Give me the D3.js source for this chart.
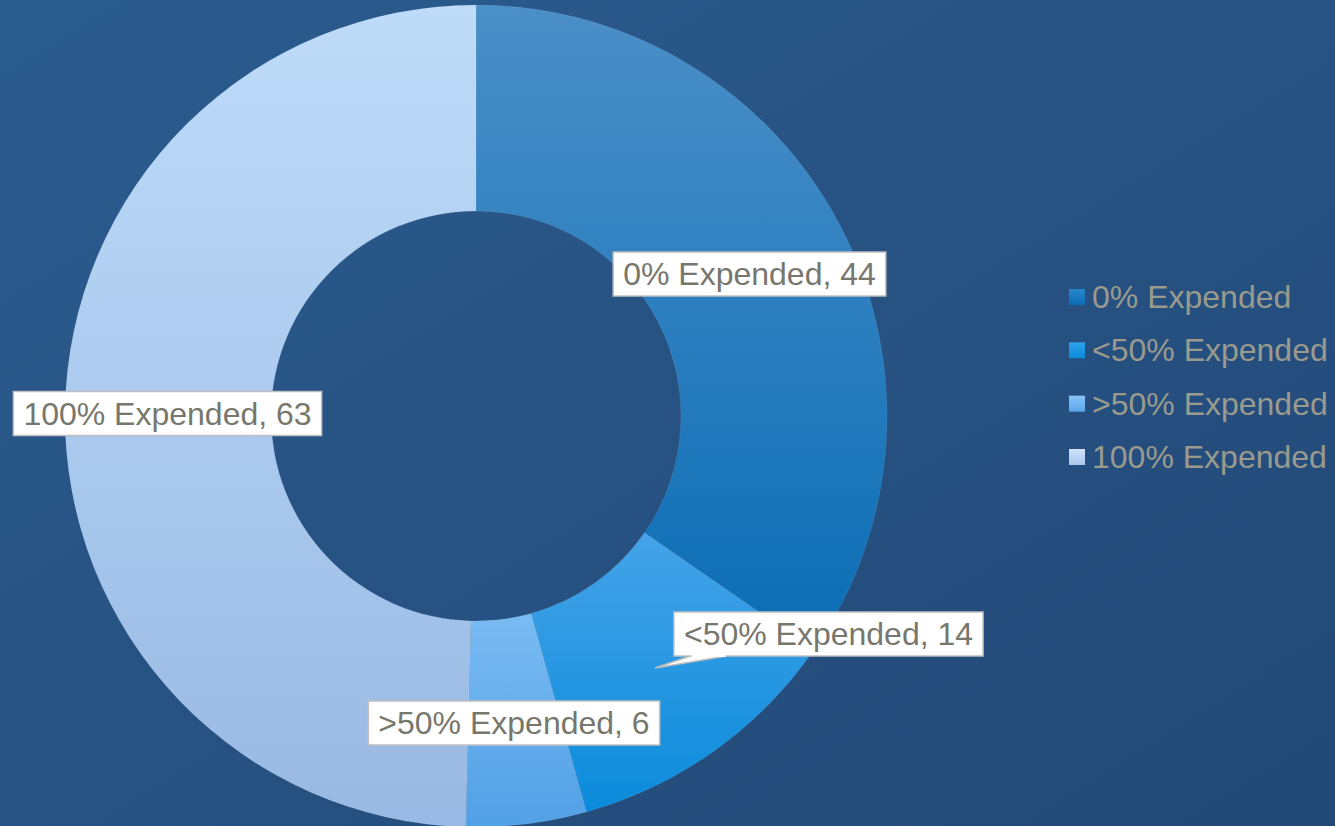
<!DOCTYPE html>
<html><head><meta charset="utf-8">
<script src="https://cdn.jsdelivr.net/npm/d3@7"></script>
<style>html,body{margin:0;padding:0;background:#26527f;overflow:hidden}</style>
</head><body>
<svg id="c" width="1335" height="826"></svg>
<script>
const categories = ["0% Expended", "<50% Expended", ">50% Expended", "100% Expended"];
const values = [44, 14, 6, 63];
const colorTop = ["#4b8fc8", "#45a3e8", "#7abbf3", "#bedbf9"];
const colorBottom = ["#0a6db5", "#0a8bdb", "#52a0e6", "#98b9e3"];
const legendColorTop = ["#2a86cc", "#2ea3ec", "#88c4f7", "#cfe3fa"];
const legendColorBottom = ["#0a6db5", "#0a8bdb", "#5aa6ea", "#a8c6ec"];

const svg = d3.select("#c");
const W = 1335, H = 826;
const defs = svg.append("defs");
const bg = defs.append("linearGradient").attr("id","bg").attr("x1","0").attr("y1","0").attr("x2","1").attr("y2","1");
bg.append("stop").attr("offset","0").attr("stop-color","#2b5c8f");
bg.append("stop").attr("offset","1").attr("stop-color","#224876");
svg.append("rect").attr("width",W).attr("height",H).attr("fill","url(#bg)");

categories.forEach((c,i)=>{
  const g = defs.append("linearGradient").attr("id","g"+i).attr("x1","0").attr("y1","0").attr("x2","0").attr("y2","1");
  g.append("stop").attr("offset","0").attr("stop-color",colorTop[i]);
  g.append("stop").attr("offset","1").attr("stop-color",colorBottom[i]);
  const l = defs.append("linearGradient").attr("id","l"+i).attr("x1","0").attr("y1","0").attr("x2","0").attr("y2","1");
  l.append("stop").attr("offset","0").attr("stop-color",legendColorTop[i]);
  l.append("stop").attr("offset","1").attr("stop-color",legendColorBottom[i]);
});

const cx = 476, cy = 416, R = 411, r = 205;
const pie = d3.pie().sort(null).value(d=>d)(values);
const arc = d3.arc().innerRadius(r).outerRadius(R);
const chart = svg.append("g").attr("transform",`translate(${cx},${cy})`);
chart.selectAll("path.slice").data(pie).join("path").attr("class","slice")
  .attr("d",arc).attr("fill",(d,i)=>`url(#g${i})`)
  .attr("stroke","rgba(255,255,255,0.08)").attr("stroke-width",1);

// data labels
const font = "Liberation Sans, Arial, sans-serif";
const labelPos = [[749.5,274],[828.5,634],[514,723],[167.5,413.5]];
const lg = svg.append("g");
// callout pointer for <50%
const p1 = labelPos[1];
lg.append("path").attr("d",`M${p1[0]-138},${p1[1]+22} L655,668 L${p1[0]-102},${p1[1]+22} Z`)
  .attr("fill","#ffffff").attr("stroke","#bfbfbf").attr("stroke-width",1.5);
lg.append("circle").attr("cx",15).attr("cy",409).attr("r",2).attr("fill","#bfbfbf");
pie.forEach((d,i)=>{
  const t = lg.append("text").attr("x",labelPos[i][0]).attr("y",labelPos[i][1]+11)
    .attr("text-anchor","middle").attr("font-family",font).attr("font-size",32)
    .attr("fill","#77776d").text(`${categories[i]}, ${values[i]}`);
  const bb = t.node().getBBox();
  lg.insert("rect", function(){return t.node();})
    .attr("x",bb.x-10).attr("y",labelPos[i][1]-22).attr("width",bb.width+20).attr("height",44)
    .attr("fill","#ffffff").attr("stroke","#bfbfbf").attr("stroke-width",1.5);
});
// cover pointer join
lg.append("line").attr("x1",p1[0]-137).attr("x2",p1[0]-103).attr("y1",p1[1]+22).attr("y2",p1[1]+22)
  .attr("stroke","#ffffff").attr("stroke-width",2);

// legend
const leg = svg.append("g");
const ly = d3.scalePoint().domain(categories).range([297,457]);
categories.forEach((c,i)=>{
  leg.append("rect").attr("x",1069).attr("y",ly(c)-8).attr("width",16).attr("height",16).attr("fill",`url(#l${i})`);
  leg.append("text").attr("x",1092).attr("y",ly(c)+11).attr("font-family",font).attr("font-size",32)
    .attr("fill","#9a9a8e").text(c);
});
</script>
</body></html>
